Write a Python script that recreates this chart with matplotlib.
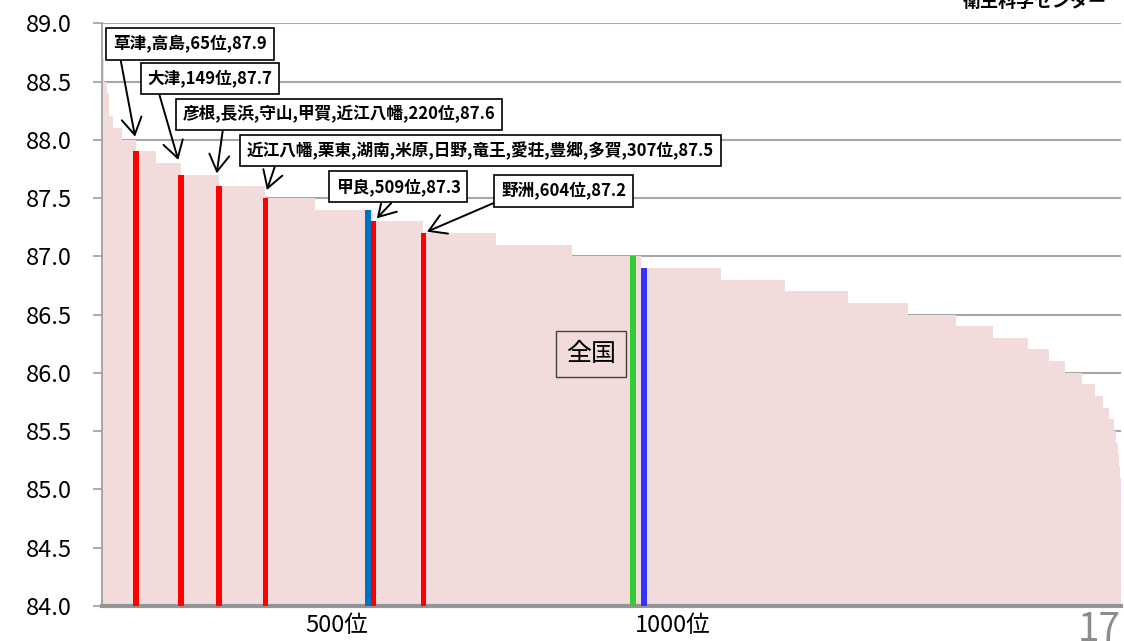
import numpy as np
import matplotlib
matplotlib.use("Agg")
import matplotlib.pyplot as plt

plt.rcParams['font.family'] = ['Noto Sans CJK JP', 'DejaVu Sans']

# life expectancy levels (sorted high -> low) and number of municipalities at each level
levels = [88.8, 88.7, 88.5, 88.4, 88.2, 88.1, 88.0, 87.9, 87.8, 87.7, 87.6, 87.5,
          87.4, 87.3, 87.2, 87.1, 87.0, 86.9, 86.8, 86.7, 86.6, 86.5, 86.4, 86.3,
          86.2, 86.1, 86.0, 85.9, 85.8, 85.7, 85.6, 85.5, 85.4, 85.3, 85.2, 85.1]
counts = [2, 3, 4, 4, 8, 17, 26, 37, 47, 71, 87, 94,
          108, 95, 135, 144, 129, 149, 120, 118, 112, 90, 71, 64,
          40, 30, 31, 25, 15, 12, 9, 4, 3, 2, 2, 2]

# Shiga municipalities (red bars)
shiga_ranks = [65, 149, 220, 307, 509, 604]
shiga_values = [87.9, 87.7, 87.6, 87.5, 87.3, 87.2]
shiga_labels = ['草津,高島,65位,87.9',
                '大津,149位,87.7',
                '彦根,長浜,守山,甲賀,近江八幡,220位,87.6',
                '近江八幡,栗東,湖南,米原,日野,竜王,愛荘,豊郷,多賀,307位,87.5',
                '甲良,509位,87.3',
                '野洲,604位,87.2']

# reference bars
ref_ranks = [500, 996, 1017]
ref_values = [87.4, 87.0, 86.9]
ref_colors = ['#0070C0', '#33CC33', '#3333FF']

xtick_pos = [500, 1000]
xtick_labels = ['500位', '1000位']

# label box centres / arrow heads (data coords) and arrow start on box edge
box_xy = [(166, 88.824), (203, 88.526), (446, 88.217), (710, 87.908), (556, 87.597), (866, 87.562)]
head_xy = [(63, 88.027), (144, 87.827), (216, 87.712), (310, 87.569), (516, 87.326), (610, 87.211)]
tail_rel = [0.04, 0.08, 0.13, 0.065, 0.5, 0.0]

life = np.repeat(levels, counts)
rank = np.arange(1, len(life) + 1)

W, H = 1124, 641
fig = plt.figure(figsize=(W / 100, H / 100), dpi=100)
ax = fig.add_axes([101.7 / W, 35.2 / H, (1121 - 101.7) / W, (617.7 - 35.2) / H])

ax.bar(rank, life, width=1.0, color='#F2DCDB', linewidth=0)
ax.bar(shiga_ranks, shiga_values, width=10, color='#FF0000', linewidth=0, zorder=3)
ax.bar(ref_ranks, ref_values, width=11, color=ref_colors, linewidth=0, zorder=3)

ax.set_xlim(0.5, len(life) + 0.5)
ax.set_ylim(84, 89)

ax.set_yticks(np.arange(84, 89.01, 0.5))
ax.set_yticklabels(['%.1f' % v for v in np.arange(84, 89.01, 0.5)])
ax.tick_params(axis='y', length=6.5, width=1.3, color='#A6A6A6', pad=15, labelsize=17)
ax.set_xticks(xtick_pos)
ax.set_xticklabels(xtick_labels)
ax.get_xticklabels()[0].set_ha('right')
ax.get_xticklabels()[1].set_ha('left')
ax.tick_params(axis='x', length=0, pad=6, labelsize=17)

ax.yaxis.grid(True, color='#A6A6A6', lw=1.5)
ax.set_axisbelow(True)
for s in ['top', 'right']:
    ax.spines[s].set_visible(False)
ax.spines['left'].set_color('#A0A0A0')
ax.spines['left'].set_linewidth(1.3)
ax.spines['bottom'].set_color('#959595')
ax.spines['bottom'].set_linewidth(3)

for lab, bxy, hxy, rx in zip(shiga_labels, box_xy, head_xy, tail_rel):
    ax.annotate(lab, xy=hxy, xytext=bxy, ha='center', va='center',
                fontsize=12, fontweight='bold', zorder=5,
                bbox=dict(boxstyle='square,pad=0.4', fc='white', ec='black', lw=1.2),
                arrowprops=dict(arrowstyle='->,head_length=0.5,head_width=0.3', color='black',
                                lw=1.4, relpos=(rx, 0), shrinkA=0, shrinkB=0,
                                mutation_scale=24))

ax.text(917, 86.161, '全国', ha='center', va='center', fontsize=18, zorder=5,
        bbox=dict(boxstyle='square,pad=0.4', fc='none', ec='#404040', lw=1))

fig.text(1107 / W, 634 / H, '衛生科学センター', ha='right', va='baseline',
         fontsize=13, fontweight='bold')
fig.text(1121 / W, 1 - 610 / H, '17', ha='right', va='top', fontsize=28, color='#8C8C8C')

fig.savefig('out.png', dpi=100)
